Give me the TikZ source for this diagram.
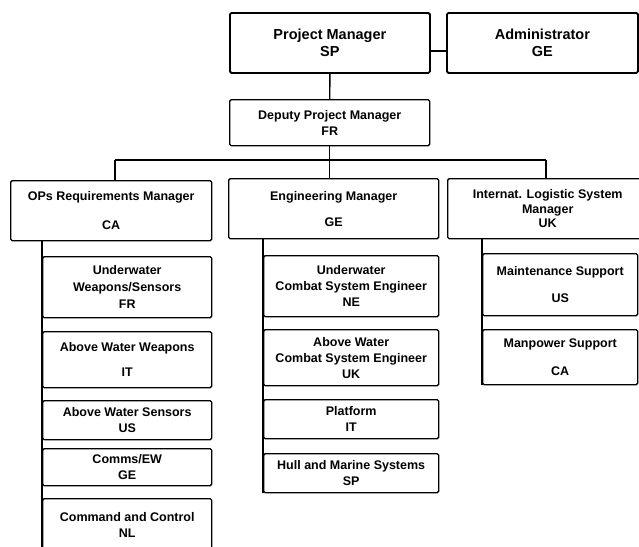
\documentclass[tikz,border=0pt]{standalone}
\usepackage{fontspec}
\setmainfont{Liberation Sans}
\begin{document}
\begin{tikzpicture}[x=1pt,y=-1pt,
  box/.style={draw, line width=1.4pt, rounded corners=1.5pt, align=center, inner sep=0pt, anchor=north west,
    font=\bfseries\fontsize{12.5}{16}\selectfont},
  bigbox/.style={box, line width=1.8pt, font=\bfseries\fontsize{14.5}{17}\selectfont},
  link/.style={line width=1.4pt}]
\useasboundingbox (0,0) rectangle (639,546);
\clip (0,0) rectangle (639,546);
% top
\node[bigbox, minimum width=200pt, minimum height=60pt] (pm) at (229,12) {Project Manager\\SP};
\node[bigbox, minimum width=191pt, minimum height=60pt] (adm) at (446,12) {Administrator\\GE};
\node[box, minimum width=200pt, minimum height=46pt] (dep) at (229,99) {Deputy Project Manager\\FR};
% managers
\node[box, minimum width=201pt, minimum height=60pt] (ops) at (10,180) {OPs Requirements Manager\\[13pt]CA};
\node[box, minimum width=210pt, minimum height=60pt] (eng) at (228,178) {Engineering Manager\\[10pt]GE};
\node[box, minimum width=200pt, minimum height=60pt] (ils) at (447,178) {Internat. Logistic System\\[-1.5pt]Manager\\[-1.5pt]UK};
% OPs children
\node[box, minimum width=169pt, minimum height=61pt] (uws) at (42,256) {Underwater\\[1pt]Weapons/Sensors\\[1pt]FR};
\node[box, minimum width=169pt, minimum height=56pt] (aww) at (42,331) {Above Water Weapons\\[9pt]IT};
\node[box, minimum width=169pt, minimum height=39pt] (aws) at (42,400) {Above Water Sensors\\US};
\node[box, minimum width=169pt, minimum height=37pt] (cew) at (42,448) {Comms/EW\\GE};
\node[box, minimum width=169pt, minimum height=52pt] (cc) at (42,498) {Command and Control\\NL};
% Eng children
\node[box, minimum width=175pt, minimum height=61pt] (ucse) at (263,255) {Underwater\\Combat System Engineer\\NE};
\node[box, minimum width=175pt, minimum height=56pt] (acse) at (263,329) {Above Water\\Combat System Engineer\\UK};
\node[box, minimum width=175pt, minimum height=39pt] (plat) at (263,399) {Platform\\IT};
\node[box, minimum width=175pt, minimum height=39pt] (hull) at (263,453) {Hull and Marine Systems\\SP};
% ILS children
\node[box, minimum width=155pt, minimum height=62pt] (mnt) at (482,253) {Maintenance Support\\[11pt]US};
\node[box, minimum width=155pt, minimum height=55pt] (man) at (482,329) {Manpower Support\\[12pt]CA};
% connectors
\coordinate (busL) at (115,160);
\coordinate (busR) at (546,160);
\draw[link] ([yshift=-8pt]pm.east) -- ([yshift=-8pt]adm.west);
\draw[link] (pm.south) -- (dep.north);
\draw[link] (dep.south) -- (dep.south |- eng.north);
\draw[link] (busL) -- (busR);
\draw[link] (busL) -- (busL |- ops.north);
\draw[link] (busR) -- (busR |- ils.north);
\draw[link] (ops.south -| cc.west) -- (cc.south west);
\draw[link] (eng.south -| hull.west) -- (hull.south west);
\draw[link] (ils.south -| man.west) -- (man.south west);
\end{tikzpicture}
\end{document}
